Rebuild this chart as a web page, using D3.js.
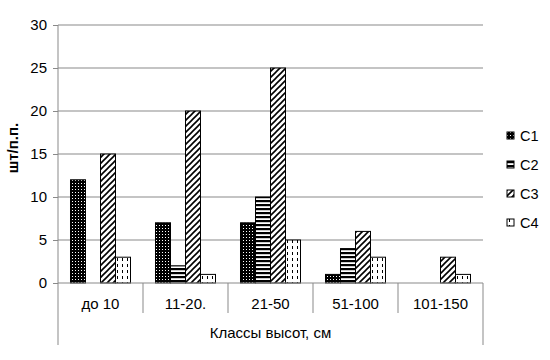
<!DOCTYPE html>
<html lang="ru">
<head>
  <meta charset="UTF-8" />
  <title>Классы высот</title>
  <script src="https://d3js.org/d3.v7.min.js"></script>
  <style>
    body { margin: 0; background: #fff; }
    svg { font-family: "Liberation Sans", Arial, sans-serif; }
  </style>
</head>
<body>
  <div id="chart"></div>

  <script>
    // data
    const categories = ["до 10", "11-20.", "21-50", "51-100", "101-150"];
    const seriesNames = ["C1", "C2", "C3", "C4"];
    const c1 = [12, 7, 7, 1, 0];
    const c2 = [0, 2, 10, 4, 0];
    const c3 = [15, 20, 25, 6, 3];
    const c4 = [3, 1, 5, 3, 1];
    const yTicks = [0, 5, 10, 15, 20, 25, 30];

    const series = [c1, c2, c3, c4];
    const W = 550, H = 360;
    const m = { top: 25, left: 58, right: 67, bottom: 77 };

    const svg = d3.select("#chart").append("svg")
      .attr("width", W).attr("height", H);

    // fill patterns, one per series
    const defs = svg.append("defs");

    const p1 = defs.append("pattern").attr("id", "pat0")
      .attr("patternUnits", "userSpaceOnUse").attr("width", 3).attr("height", 3);
    p1.append("rect").attr("width", 3).attr("height", 3).attr("fill", "#000");
    p1.append("rect").attr("x", 0).attr("y", 0).attr("width", 1).attr("height", 1).attr("fill", "#fff");

    const p2 = defs.append("pattern").attr("id", "pat1")
      .attr("patternUnits", "userSpaceOnUse").attr("width", 4).attr("height", 4);
    p2.append("rect").attr("width", 4).attr("height", 4).attr("fill", "#fff");
    p2.append("rect").attr("y", 0).attr("width", 4).attr("height", 2.2).attr("fill", "#000");

    const p3 = defs.append("pattern").attr("id", "pat2")
      .attr("patternUnits", "userSpaceOnUse").attr("width", 6).attr("height", 6);
    p3.append("rect").attr("width", 6).attr("height", 6).attr("fill", "#fff");
    p3.append("path").attr("d", "M0,6 L6,0 M-1.5,1.5 L1.5,-1.5 M4.5,7.5 L7.5,4.5")
      .attr("stroke", "#000").attr("stroke-width", 1.6);

    const p4 = defs.append("pattern").attr("id", "pat3")
      .attr("patternUnits", "userSpaceOnUse").attr("width", 5).attr("height", 6);
    p4.append("rect").attr("width", 5).attr("height", 6).attr("fill", "#fff");
    p4.append("rect").attr("x", 2).attr("y", 0).attr("width", 1).attr("height", 3).attr("fill", "#000");

    const x0 = d3.scaleBand().domain(categories).range([m.left, W - m.right]);
    const x1 = d3.scaleBand().domain(seriesNames).range([0, x0.bandwidth()])
      .paddingInner(0).paddingOuter(0.833);
    const y = d3.scaleLinear().domain([0, 30]).range([H - m.bottom, m.top]);

    const grey = "#898989";

    // gridlines
    svg.append("g").selectAll("line").data(yTicks.slice(1)).join("line")
      .attr("x1", m.left).attr("x2", W - m.right)
      .attr("y1", d => y(d)).attr("y2", d => y(d))
      .attr("stroke", grey).attr("stroke-width", 1);

    // y axis
    const yAxis = svg.append("g")
      .attr("transform", `translate(${m.left},0)`)
      .call(d3.axisLeft(y).tickValues(yTicks).tickSize(5).tickPadding(6));
    yAxis.select(".domain").remove();
    yAxis.selectAll(".tick line").attr("stroke", grey);
    yAxis.selectAll(".tick text").attr("font-size", 15).attr("fill", "#000")
      .attr("font-family", "Liberation Sans, Arial, sans-serif");

    // left axis line, goes down through the category area
    svg.append("line")
      .attr("x1", m.left).attr("x2", m.left)
      .attr("y1", m.top).attr("y2", 345)
      .attr("stroke", grey);
    svg.append("line")
      .attr("x1", W - m.right).attr("x2", W - m.right)
      .attr("y1", y(0)).attr("y2", 345)
      .attr("stroke", grey);

    // bars
    series.forEach((vals, i) => {
      const rows = vals.map((v, j) => ({ cat: categories[j], v }));
      svg.append("g").selectAll("rect").data(rows.filter(d => d.v > 0)).join("rect")
        .attr("x", d => x0(d.cat) + x1(seriesNames[i]))
        .attr("y", d => y(d.v))
        .attr("width", x1.bandwidth())
        .attr("height", d => y(0) - y(d.v))
        .attr("fill", `url(#pat${i})`)
        .attr("stroke", "#000").attr("stroke-width", 1);
    });

    // x axis line and category separators
    svg.append("line")
      .attr("x1", m.left).attr("x2", W - m.right)
      .attr("y1", y(0)).attr("y2", y(0))
      .attr("stroke", grey);
    svg.append("g").selectAll("line").data(categories.slice(1)).join("line")
      .attr("x1", d => x0(d)).attr("x2", d => x0(d))
      .attr("y1", y(0)).attr("y2", 313)
      .attr("stroke", grey);

    svg.append("g").selectAll("text").data(categories).join("text")
      .attr("x", d => x0(d) + x0.bandwidth() / 2)
      .attr("y", 309)
      .attr("text-anchor", "middle")
      .attr("font-size", 15)
      .text(d => d);

    svg.append("text")
      .attr("x", (m.left + W - m.right) / 2)
      .attr("y", 338)
      .attr("text-anchor", "middle")
      .attr("font-size", 15)
      .text("Классы высот, см");

    svg.append("text")
      .attr("transform", `translate(18,${(m.top + y(0)) / 2 - 6}) rotate(-90)`)
      .attr("text-anchor", "middle")
      .attr("font-size", 15)
      .attr("font-weight", "bold")
      .text("шт/п.п.");

    // legend
    const leg = svg.append("g").selectAll("g").data(seriesNames).join("g")
      .attr("transform", (d, i) => `translate(507,${132 + i * 29})`);
    leg.append("rect")
      .attr("width", 7).attr("height", 7)
      .attr("fill", (d, i) => `url(#pat${i})`)
      .attr("stroke", "#000").attr("stroke-width", 1);
    leg.append("text")
      .attr("x", 13).attr("y", 9)
      .attr("font-size", 14.5)
      .text(d => d);
  </script>
</body>
</html>
